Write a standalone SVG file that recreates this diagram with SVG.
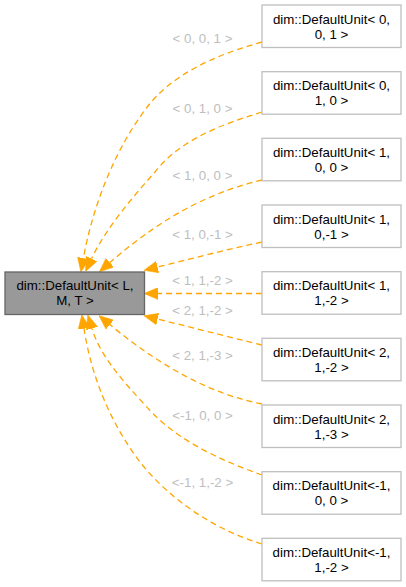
<svg xmlns="http://www.w3.org/2000/svg" width="406" height="587" viewBox="0 0 406 587">
<style>
.n rect{fill:#ffffff;stroke:#bfbfbf;stroke-width:1.3}
.m rect{fill:#999999;stroke:#666666;stroke-width:1.3}
text{font-family:"Liberation Sans",Arial,sans-serif;font-size:13.3px;text-anchor:middle;fill:#000000}
.lbl{fill:#bebebe}
.e{fill:none;stroke:#ffa500;stroke-width:1.3;stroke-dasharray:6,4;marker-end:url(#ah)}
</style>
<defs>
<marker id="ah" markerUnits="userSpaceOnUse" markerWidth="14" markerHeight="12" viewBox="0 0 13 11" refX="0" refY="5.5" orient="auto">
<path d="M0,0 L13,5.5 L0,11 z" fill="#ffa500" stroke="#ffa500" stroke-width="0.5"/>
</marker>
</defs>
<rect width="406" height="587" fill="#ffffff"/>
<g id="edges">
<path class="e" d="M262,42 C215,55 170,75 145,110 C115,150 93,205 83.4,258.2"/>
<path class="e" d="M262,112 C220,125 180,140 155,172 C130,200 105,230 91.5,258.8"/>
<path class="e" d="M262,180 C220,190 170,210 109.9,262.6"/>
<path class="e" d="M262,242 C225,250 190,259 157.6,267"/>
<path class="e" d="M262,293.5 L158,293.5"/>
<path class="e" d="M262,345 C225,336 190,327 157.6,319.1"/>
<path class="e" d="M262,404 C215,395 165,370 109.8,324.6"/>
<path class="e" d="M262,475 C220,460 175,440 145,405 C120,378 100,355 91.9,328.4"/>
<path class="e" d="M262,544 C215,530 170,500 140,462 C112,425 92,380 84,328.6"/>
<text class="lbl" x="202.5" y="42.5">&lt; 0, 0, 1 &gt;</text>
<text class="lbl" x="202.5" y="113.3">&lt; 0, 1, 0 &gt;</text>
<text class="lbl" x="202.5" y="180">&lt; 1, 0, 0 &gt;</text>
<text class="lbl" x="202.5" y="239.3">&lt; 1, 0,-1 &gt;</text>
<text class="lbl" x="202.5" y="285">&lt; 1, 1,-2 &gt;</text>
<text class="lbl" x="202.5" y="315">&lt; 2, 1,-2 &gt;</text>
<text class="lbl" x="202.5" y="360">&lt; 2, 1,-3 &gt;</text>
<text class="lbl" x="202.5" y="419.7">&lt;-1, 0, 0 &gt;</text>
<text class="lbl" x="202.5" y="487">&lt;-1, 1,-2 &gt;</text>
</g>
<g id="main" class="m"><rect x="5" y="272" width="139.5" height="42.5"/><text x="75" y="290">dim::DefaultUnit&lt; L,</text><text x="75" y="305">M, T &gt;</text></g>
<g id="n1" class="n"><rect x="262" y="5" width="139" height="42.5"/><text x="331.5" y="23.5">dim::DefaultUnit&lt; 0,</text><text x="331.5" y="38.5">0, 1 &gt;</text></g>
<g id="n2" class="n"><rect x="262" y="71.7" width="139" height="42.5"/><text x="331.5" y="90.2">dim::DefaultUnit&lt; 0,</text><text x="331.5" y="105.2">1, 0 &gt;</text></g>
<g id="n3" class="n"><rect x="262" y="138.3" width="139" height="42.5"/><text x="331.5" y="156.8">dim::DefaultUnit&lt; 1,</text><text x="331.5" y="171.8">0, 0 &gt;</text></g>
<g id="n4" class="n"><rect x="262" y="205" width="139" height="42.5"/><text x="331.5" y="223.5">dim::DefaultUnit&lt; 1,</text><text x="331.5" y="238.5">0,-1 &gt;</text></g>
<g id="n5" class="n"><rect x="262" y="271.7" width="139" height="42.5"/><text x="331.5" y="290.2">dim::DefaultUnit&lt; 1,</text><text x="331.5" y="305.2">1,-2 &gt;</text></g>
<g id="n6" class="n"><rect x="262" y="338.3" width="139" height="42.5"/><text x="331.5" y="356.8">dim::DefaultUnit&lt; 2,</text><text x="331.5" y="371.8">1,-2 &gt;</text></g>
<g id="n7" class="n"><rect x="262" y="405" width="139" height="42.5"/><text x="331.5" y="423.5">dim::DefaultUnit&lt; 2,</text><text x="331.5" y="438.5">1,-3 &gt;</text></g>
<g id="n8" class="n"><rect x="262" y="471.7" width="139" height="42.5"/><text x="331.5" y="490.2">dim::DefaultUnit&lt;-1,</text><text x="331.5" y="505.2">0, 0 &gt;</text></g>
<g id="n9" class="n"><rect x="262" y="538.3" width="139" height="42.5"/><text x="331.5" y="556.8">dim::DefaultUnit&lt;-1,</text><text x="331.5" y="571.8">1,-2 &gt;</text></g>
</svg>
